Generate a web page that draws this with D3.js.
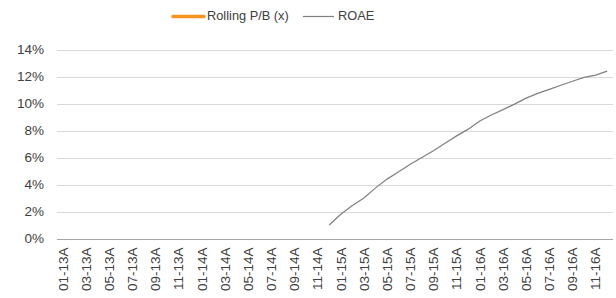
<!DOCTYPE html>
<html><head><meta charset="utf-8">
<script src="https://cdn.jsdelivr.net/npm/d3@7"></script>
<style>
body{margin:0;background:#fff;}
svg{display:block;font-family:"Liberation Sans",Arial,sans-serif;}
</style></head>
<body><svg id="c" width="616" height="298"></svg>
<script>
const months = [
 "01-13A","02-13A","03-13A","04-13A","05-13A","06-13A","07-13A","08-13A","09-13A","10-13A","11-13A","12-13A",
 "01-14A","02-14A","03-14A","04-14A","05-14A","06-14A","07-14A","08-14A","09-14A","10-14A","11-14A","12-14A",
 "01-15A","02-15A","03-15A","04-15A","05-15A","06-15A","07-15A","08-15A","09-15A","10-15A","11-15A","12-15A",
 "01-16A","02-16A","03-16A","04-16A","05-16A","06-16A","07-16A","08-16A","09-16A","10-16A","11-16A","12-16A"];
const tickLabels = ["01-13A","03-13A","05-13A","07-13A","09-13A","11-13A","01-14A","03-14A","05-14A","07-14A","09-14A","11-14A",
 "01-15A","03-15A","05-15A","07-15A","09-15A","11-15A","01-16A","03-16A","05-16A","07-16A","09-16A","11-16A"];
const rollingPB = [
 null,null,null,null,null,null,null,null,null,null,null,null,
 null,null,null,null,null,null,null,null,null,null,null,null,
 null,null,null,null,null,null,null,null,null,null,null,null,
 null,null,null,null,null,null,null,null,null,null,null,null];
const roae = [
 null,null,null,null,null,null,null,null,null,null,null,null,
 null,null,null,null,null,null,null,null,null,null,null,1.0,
 1.8,2.45,3.0,3.75,4.4,4.95,5.5,6.0,6.5,7.05,7.6,8.1,
 8.7,9.15,9.55,9.95,10.4,10.75,11.05,11.35,11.65,11.93,12.1,12.4];
const yTicks = [0,2,4,6,8,10,12,14];

const svg = d3.select("#c");
const L = 57, R = 613, T = 49.5, B = 238.5;
const x = d3.scaleBand().domain(months).range([L, R]).paddingInner(0).paddingOuter(0);
const y = d3.scaleLinear().domain([0, 14]).range([B, T]);
const FONT = "Liberation Sans, Arial, sans-serif";

// gridlines
svg.append("g").selectAll("line").data(yTicks.filter(d => d > 0)).join("line")
  .attr("x1", L).attr("x2", R)
  .attr("y1", d => Math.round(y(d)) + 0.5).attr("y2", d => Math.round(y(d)) + 0.5)
  .attr("stroke", "#d9d9d9").attr("stroke-width", 1);

// y axis labels
const ya = svg.append("g").attr("transform", `translate(${L},0)`)
  .call(d3.axisLeft(y).tickValues(yTicks).tickSize(0).tickPadding(13).tickFormat(d => d + "%"));
ya.select(".domain").remove();
ya.selectAll("text").attr("fill", "#404040").style("font-size", "13.5px").style("font-family", FONT);

// x axis
const xa = svg.append("g").attr("transform", `translate(0,${Math.round(B) + 0.5})`)
  .call(d3.axisBottom(x).tickValues(tickLabels).tickSize(0).tickPadding(0));
xa.select(".domain").attr("stroke", "#a6a6a6").attr("d", `M${L},0H${R}`);
xa.selectAll("text").attr("fill", "#404040").style("font-size", "13.5px").style("font-family", FONT)
  .attr("text-anchor", "end").attr("dy", "0.35em")
  .attr("transform", "translate(0,8) rotate(-90)").attr("x", 0).attr("y", 0);

// lines
const line = d3.line().defined(d => d.v != null)
  .x(d => x(d.m) + x.bandwidth() / 2).y(d => y(d.v));
svg.append("path").datum(months.map((m, i) => ({m, v: rollingPB[i]})))
  .attr("fill", "none").attr("stroke", "#f7941d").attr("stroke-width", 3).attr("d", line);
svg.append("path").datum(months.map((m, i) => ({m, v: roae[i]})))
  .attr("fill", "none").attr("stroke", "#808080").attr("stroke-width", 1.25).attr("d", line);

// legend
const lg = svg.append("g").style("font-size", "12.8px").style("font-family", FONT).attr("fill", "#404040");
lg.append("line").attr("x1", 173).attr("x2", 204).attr("y1", 16.5).attr("y2", 16.5)
  .attr("stroke", "#f7941d").attr("stroke-width", 3.5).attr("stroke-linecap", "round");
lg.append("text").attr("x", 207).attr("y", 16).attr("dy", "0.35em").text("Rolling P/B (x)");
lg.append("line").attr("x1", 303).attr("x2", 334).attr("y1", 16.5).attr("y2", 16.5)
  .attr("stroke", "#808080").attr("stroke-width", 1.25);
lg.append("text").attr("x", 338).attr("y", 16).attr("dy", "0.35em").text("ROAE");
</script></body></html>
